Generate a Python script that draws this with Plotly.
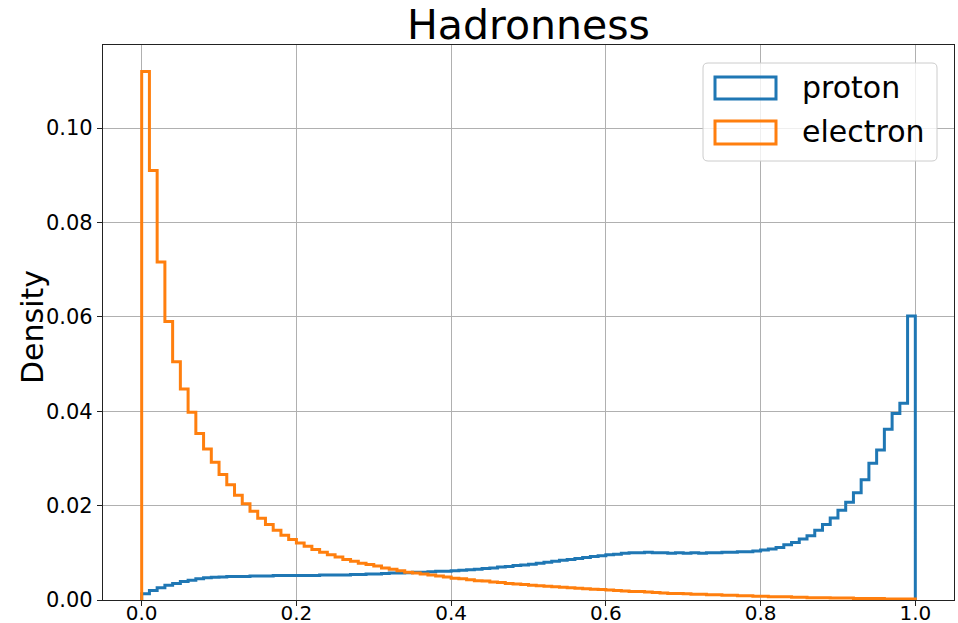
import numpy as np
import plotly.graph_objects as go

# Histogram binning: 100 equal bins on [0, 1]
bin_edges = np.linspace(0.0, 1.0, 101)

# Normalised bin contents (fraction of events per bin)
proton_density = [
    0.0013, 0.0020, 0.0026, 0.0031, 0.0035, 0.0039, 0.0042, 0.0045, 0.0047, 0.0048,
    0.0049, 0.0050, 0.0050, 0.0050, 0.0051, 0.0051, 0.0051, 0.0052, 0.0052, 0.0052,
    0.0052, 0.0052, 0.0052, 0.0053, 0.0053, 0.0053, 0.0053, 0.0054, 0.0054, 0.0055,
    0.0055, 0.0056, 0.0057, 0.0057, 0.0058, 0.0059, 0.0059, 0.0060, 0.0061, 0.0061,
    0.0062, 0.0063, 0.0064, 0.0065, 0.0067, 0.0068, 0.0070, 0.0071, 0.0073, 0.0074,
    0.0076, 0.0078, 0.0080, 0.0082, 0.0084, 0.0086, 0.0088, 0.0090, 0.0092, 0.0094,
    0.0096, 0.0097, 0.0099, 0.0100, 0.0100, 0.0101, 0.0100, 0.0100, 0.0099, 0.0100,
    0.0099, 0.0100, 0.0099, 0.0100, 0.0100, 0.0101, 0.0101, 0.0102, 0.0102, 0.0104,
    0.0106, 0.0108, 0.0111, 0.0117, 0.0122, 0.0129, 0.0136, 0.0148, 0.0160, 0.0174,
    0.0190, 0.0207, 0.0227, 0.0255, 0.0290, 0.0318, 0.0362, 0.0395, 0.0417, 0.0602,
]

electron_density = [
    0.1120, 0.0910, 0.0716, 0.0590, 0.0505, 0.0447, 0.0398, 0.0353, 0.0320, 0.0292,
    0.0266, 0.0244, 0.0222, 0.0204, 0.0188, 0.0173, 0.0160, 0.0148, 0.0137, 0.0128,
    0.0121, 0.0114, 0.0107, 0.0101, 0.0096, 0.0091, 0.0086, 0.0082, 0.0078, 0.0075,
    0.0072, 0.0068, 0.0065, 0.0062, 0.0059, 0.0057, 0.0055, 0.0053, 0.0051, 0.0049,
    0.0046, 0.0045, 0.0043, 0.0041, 0.0040, 0.0038, 0.0037, 0.0035, 0.0034, 0.0033,
    0.0031, 0.0030, 0.0029, 0.0028, 0.0027, 0.0026, 0.0025, 0.0024, 0.0023, 0.0022,
    0.0021, 0.0020, 0.0019, 0.0018, 0.0018, 0.0017, 0.0016, 0.0015, 0.0014, 0.0014,
    0.0013, 0.0012, 0.0012, 0.0011, 0.0011, 0.0010, 0.0010, 0.0009, 0.0009, 0.0008,
    0.0008, 0.0007, 0.0007, 0.0007, 0.0006, 0.0006, 0.0005, 0.0005, 0.0005, 0.0004,
    0.0004, 0.0004, 0.0003, 0.0003, 0.0003, 0.0003, 0.0002, 0.0002, 0.0002, 0.0002,
]

series_names = ["proton", "electron"]
series_colors = ["#1f77b4", "#ff7f0e"]

x_ticks = [0.0, 0.2, 0.4, 0.6, 0.8, 1.0]
x_tick_labels = ["0.0", "0.2", "0.4", "0.6", "0.8", "1.0"]
y_ticks = [0.00, 0.02, 0.04, 0.06, 0.08, 0.10]
y_tick_labels = ["0.00", "0.02", "0.04", "0.06", "0.08", "0.10"]

FONT = "DejaVu Sans"
W, H = 958, 623
L, R, T, B = 103, 954, 45, 600   # plot-area pixel box


def step_outline(edges, values):
    """Open step outline of a histogram: up from 0 at the first edge,
    across every bin, back down to 0 at the last edge."""
    xs = [edges[0]] + list(edges[:-1]) + [edges[-1]]
    ys = [0.0] + list(values) + [0.0]
    return xs, ys


fig = go.Figure()
for name, vals, col in zip(series_names, [proton_density, electron_density], series_colors):
    xs, ys = step_outline(bin_edges, vals)
    fig.add_trace(go.Scatter(
        x=xs, y=ys, mode="lines", name=name,
        line=dict(color=col, width=3, shape="hv"),
        showlegend=False, hoverinfo="skip",
    ))

y_top = max(max(proton_density), max(electron_density)) * 1.05

fig.update_layout(
    width=W, height=H,
    margin=dict(l=L, r=W - R, t=T, b=H - B),
    paper_bgcolor="white", plot_bgcolor="white",
    font=dict(family=FONT, color="black"),
    title=dict(text="Hadronness", x=(L + R) / 2 / W, xref="container", xanchor="center",
               y=1 - 25 / H, yref="container", yanchor="middle",
               font=dict(size=41, family=FONT, color="black")),
)

axis_common = dict(
    showgrid=True, gridcolor="#b0b0b0", gridwidth=1,
    showline=True, linecolor="#222222", linewidth=1.3, mirror=True,
    ticks="outside", ticklen=5, tickwidth=1.3, tickcolor="#222222",
    tickfont=dict(size=21, family=FONT, color="black"),
    zeroline=False, automargin=False,
)

fig.update_xaxes(range=[-0.05, 1.05], tickvals=x_ticks, ticktext=x_tick_labels, **axis_common)
fig.update_xaxes(ticklabelstandoff=-10, tickfont=dict(size=20, family=FONT, color="black"))
fig.update_yaxes(range=[0, y_top], tickvals=y_ticks, ticktext=y_tick_labels, **axis_common)


# Legend drawn with shapes so the patch handles have matplotlib-like proportions
def px_x(px):
    return (px - L) / (R - L)


def px_y(py):
    return (B - py) / (B - T)


def rounded_rect_path(x0, y0, x1, y1, r):
    pts = []
    pts.append(f"M {px_x(x0 + r)},{px_y(y0)}")
    pts.append(f"L {px_x(x1 - r)},{px_y(y0)}")
    pts.append(f"Q {px_x(x1)},{px_y(y0)} {px_x(x1)},{px_y(y0 + r)}")
    pts.append(f"L {px_x(x1)},{px_y(y1 - r)}")
    pts.append(f"Q {px_x(x1)},{px_y(y1)} {px_x(x1 - r)},{px_y(y1)}")
    pts.append(f"L {px_x(x0 + r)},{px_y(y1)}")
    pts.append(f"Q {px_x(x0)},{px_y(y1)} {px_x(x0)},{px_y(y1 - r)}")
    pts.append(f"L {px_x(x0)},{px_y(y0 + r)}")
    pts.append(f"Q {px_x(x0)},{px_y(y0)} {px_x(x0 + r)},{px_y(y0)} Z")
    return " ".join(pts)


shapes = [dict(type="path", xref="paper", yref="paper", layer="above",
               path=rounded_rect_path(703, 63, 937, 161, 5),
               fillcolor="rgba(255,255,255,0.8)", line=dict(color="#cccccc", width=1))]
annotations = [
    # y-axis title
    dict(text="Density", xref="paper", yref="paper", showarrow=False, textangle=-90,
         x=px_x(33), y=px_y(327), xanchor="center", yanchor="middle",
         font=dict(size=30, family=FONT, color="black")),
]
handle_rows = [(77, 99), (121, 144)]
for (y0, y1), name, col in zip(handle_rows, series_names, series_colors):
    shapes.append(dict(type="rect", xref="paper", yref="paper", layer="above",
                       x0=px_x(715), x1=px_x(776), y0=px_y(y1), y1=px_y(y0),
                       fillcolor="rgba(0,0,0,0)", line=dict(color=col, width=3)))
    annotations.append(dict(text=name, xref="paper", yref="paper", showarrow=False,
                            x=px_x(800), y=px_y((y0 + y1) / 2 - 1), xanchor="left", yanchor="middle",
                            font=dict(size=30, family=FONT, color="black")))

fig.update_layout(shapes=shapes, annotations=annotations)

fig.write_html("out.html")
